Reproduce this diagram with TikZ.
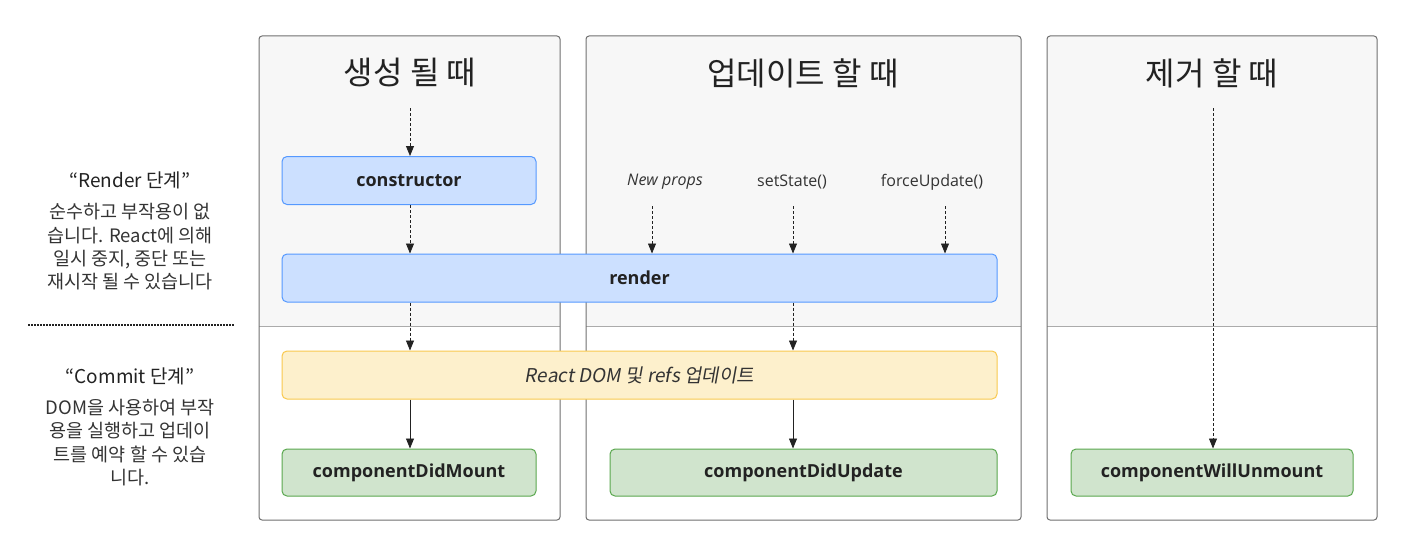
\documentclass[tikz,border=0pt]{standalone}
\usepackage{fontspec}
\setmainfont{Noto Sans CJK KR}
\newfontfamily\latfont{Open Sans}
\newfontfamily\krslant{Noto Sans CJK KR}[FakeSlant=0.18]
\usetikzlibrary{arrows.meta}

\definecolor{txt}{HTML}{222222}
\definecolor{desc}{HTML}{333333}
\definecolor{panelbg}{HTML}{F7F7F7}
\definecolor{panelline}{HTML}{707070}
\definecolor{midline}{HTML}{ABABAB}
\definecolor{blueFill}{HTML}{CCE0FF}
\definecolor{blueLine}{HTML}{5599FF}
\definecolor{yellowFill}{HTML}{FDF0CC}
\definecolor{yellowLine}{HTML}{F9C94F}
\definecolor{greenFill}{HTML}{D0E4CD}
\definecolor{greenLine}{HTML}{5AA84F}

\begin{document}
\begin{tikzpicture}[x=1pt,y=-1pt,
  panel/.style={draw=panelline,line width=1pt,rounded corners=3pt},
  title/.style={text=txt,font=\fontsize{32}{36}\selectfont,inner sep=0pt},
  phase/.style={text=txt,font=\fontsize{19}{22}\selectfont,inner sep=0pt},
  phasedesc/.style={text=desc,align=center,font=\fontsize{18.5}{23.3}\selectfont,inner sep=0pt},
  trigger/.style={text=desc,font=\latfont\fontsize{16}{18}\selectfont,inner sep=0pt},
  lifebox/.style={rounded corners=5pt,line width=1pt,inner sep=0pt,minimum height=48pt,text=txt,font=\latfont\bfseries\fontsize{18}{20}\selectfont},
  renderbox/.style={lifebox,fill=blueFill,draw=blueLine},
  commitbox/.style={lifebox,fill=greenFill,draw=greenLine},
  dashflow/.style={-{Triangle[length=10pt,width=8pt]},dash pattern=on 3pt off 2pt,line width=.8pt,color=txt},
  flow/.style={-{Triangle[length=10pt,width=8pt]},line width=.8pt,color=txt}
]
\useasboundingbox (0,0) rectangle (1414,551);

\foreach \l/\r in {259/560,586/1021,1047/1377}{
  \fill[white,rounded corners=3pt] (\l,36) rectangle (\r,520);
  \fill[panelbg] (\l,326) [rounded corners=3pt] -- (\l,36) -- (\r,36) [sharp corners] -- (\r,326) -- cycle;
  \draw[midline,line width=.8pt] (\l,326) -- (\r,326);
  \draw[panel] (\l,36) rectangle (\r,520);
}

\node[title] (mountTitle) at (410,73) {생성 될 때};
\node[title] (updateTitle) at (803,73) {업데이트 할 때};
\node[title] (unmountTitle) at (1212,73) {제거 할 때};

\node[phase] (renderPhase) at (130,180) {“Render 단계”};
\node[phasedesc] (renderDesc) at (130,247) {순수하고 부작용이 없\\습니다. React에 의해\\일시 중지, 중단 또는\\재시작 될 수 있습니다};
\draw[txt,line width=2pt,dash pattern=on 1.5pt off 1.5pt] (28,325) -- (234,325);
\node[phase] (commitPhase) at (130,376) {“Commit 단계”};
\node[phasedesc] (commitDesc) at (130,442.5) {DOM을 사용하여 부작\\용을 실행하고 업데이\\트를 예약 할 수 있습\\니다.};

\node[renderbox,minimum width=254pt] (constructor) at (409,180.5) {constructor};
\node[renderbox,minimum width=715pt] (render) at (639.5,278) {render};
\node[lifebox,fill=yellowFill,draw=yellowLine,minimum width=715pt,font=\krslant\fontsize{19}{22}\selectfont,text=desc] (domUpdate) at (639.5,375) {React DOM 및 refs 업데이트};
\node[commitbox,minimum width=254pt,minimum height=47pt] (didMount) at (409,472.5) {componentDidMount};
\node[commitbox,minimum width=387pt,minimum height=47pt] (didUpdate) at (803.5,472.5) {componentDidUpdate};
\node[commitbox,minimum width=282pt,minimum height=47pt] (willUnmount) at (1212,472.5) {componentWillUnmount};

\node[trigger,font=\latfont\itshape\fontsize{16}{18}\selectfont] (newProps) at (665,182) {New props};
\node[trigger] (setState) at (792,182) {setState()};
\node[trigger] (forceUpdate) at (932,182) {forceUpdate()};

\coordinate (mountStart) at (410,108);
\coordinate (propsStart) at (652,206);
\coordinate (stateStart) at (793,206);
\coordinate (forceStart) at (945,206);
\coordinate (unmountStart) at (1213,108);

\draw[dashflow] (mountStart) -- (mountStart |- constructor.north);
\draw[dashflow] (mountStart |- constructor.south) -- (mountStart |- render.north);
\draw[dashflow] (propsStart) -- (propsStart |- render.north);
\draw[dashflow] (stateStart) -- (stateStart |- render.north);
\draw[dashflow] (forceStart) -- (forceStart |- render.north);
\draw[dashflow] (mountStart |- render.south) -- (mountStart |- domUpdate.north);
\draw[dashflow] (stateStart |- render.south) -- (stateStart |- domUpdate.north);
\draw[flow] (mountStart |- domUpdate.south) -- (mountStart |- didMount.north);
\draw[flow] (stateStart |- domUpdate.south) -- (stateStart |- didUpdate.north);
\draw[dashflow] (unmountStart) -- (unmountStart |- willUnmount.north);

\end{tikzpicture}
\end{document}
